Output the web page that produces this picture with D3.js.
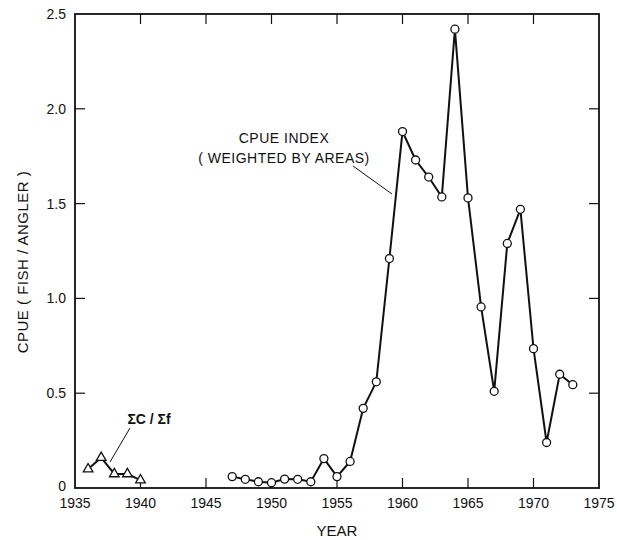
<!DOCTYPE html>
<html>
<head>
<meta charset="utf-8">
<style>
    html, body { margin: 0; padding: 0; background: #ffffff; }
    svg { display: block; font-family: "Liberation Sans", Arial, sans-serif; }
    text { fill: #111111; }
    .frame { fill: none; stroke: #111111; stroke-width: 1.8; }
    .tick { stroke: #111111; stroke-width: 1.2; }
    .series { fill: none; stroke: #111111; stroke-width: 2; }
    .marker { fill: #ffffff; stroke: #111111; stroke-width: 1.3; }
    .leader { stroke: #111111; stroke-width: 1; }
</style>
</head>
<body>
<div id="chart"></div>
<script src="https://d3js.org/d3.v7.min.js"></script>
<script>
    // CPUE index (weighted by areas), 1947-1973
    var indexYears = [1947, 1948, 1949, 1950, 1951, 1952, 1953, 1954, 1955, 1956,
        1957, 1958, 1959, 1960, 1961, 1962, 1963, 1964, 1965, 1966,
        1967, 1968, 1969, 1970, 1971, 1972, 1973];
    var indexValues = [0.06, 0.046, 0.033, 0.028, 0.047, 0.046, 0.033, 0.155, 0.06, 0.14,
        0.42, 0.56, 1.21, 1.88, 1.73, 1.64, 1.535, 2.42, 1.53, 0.955,
        0.51, 1.29, 1.47, 0.735, 0.24, 0.6, 0.545];

    // sum C / sum f, 1936-1940
    var ratioYears = [1936, 1937, 1938, 1939, 1940];
    var ratioValues = [0.1, 0.16, 0.074, 0.074, 0.042];

    var xTicks = [1935, 1940, 1945, 1950, 1955, 1960, 1965, 1970, 1975];
    var yTicks = [0, 0.5, 1.0, 1.5, 2.0, 2.5];

    var width = 617, height = 540;
    var plotLeft = 75, plotRight = 599, plotTop = 14, plotBottom = 488;

    var svg = d3.select("#chart").append("svg")
        .attr("width", width)
        .attr("height", height);

    var x = d3.scaleLinear().domain([1935, 1975]).range([plotLeft, plotRight]);
    var y = d3.scaleLinear().domain([0, 2.5]).range([plotBottom, plotTop]);

    // frame
    svg.append("rect")
        .attr("class", "frame")
        .attr("x", plotLeft).attr("y", plotTop)
        .attr("width", plotRight - plotLeft).attr("height", plotBottom - plotTop);

    // inward ticks on all four sides
    var tl = 10;
    xTicks.slice(1, -1).forEach(function (t) {
        svg.append("line").attr("class", "tick")
            .attr("x1", x(t)).attr("x2", x(t))
            .attr("y1", plotBottom).attr("y2", plotBottom - tl);
        svg.append("line").attr("class", "tick")
            .attr("x1", x(t)).attr("x2", x(t))
            .attr("y1", plotTop).attr("y2", plotTop + tl);
    });
    yTicks.slice(1, -1).forEach(function (t) {
        svg.append("line").attr("class", "tick")
            .attr("x1", plotLeft).attr("x2", plotLeft + tl)
            .attr("y1", y(t)).attr("y2", y(t));
        svg.append("line").attr("class", "tick")
            .attr("x1", plotRight).attr("x2", plotRight - tl)
            .attr("y1", y(t)).attr("y2", y(t));
    });

    // tick labels
    svg.selectAll(".xlab")
        .data(xTicks)
        .enter().append("text")
        .attr("class", "xlab")
        .attr("x", function (d) { return x(d); })
        .attr("y", plotBottom + 20)
        .attr("text-anchor", "middle")
        .style("font-size", "14px")
        .text(function (d) { return d; });

    svg.selectAll(".ylab")
        .data(yTicks)
        .enter().append("text")
        .attr("class", "ylab")
        .attr("x", plotLeft - 9)
        .attr("y", function (d) { return y(d) + (d === 0 ? 3 : 5); })
        .attr("text-anchor", "end")
        .style("font-size", "14px")
        .text(function (d) { return d === 0 ? "0" : d.toFixed(1); });

    // axis titles
    svg.append("text")
        .attr("x", 337)
        .attr("y", 536)
        .attr("text-anchor", "middle")
        .style("font-size", "15px")
        .text("YEAR");

    svg.append("text")
        .attr("transform", "translate(28,262) rotate(-90)")
        .attr("text-anchor", "middle")
        .style("font-size", "15px")
        .style("letter-spacing", "0.5px")
        .text("CPUE ( FISH / ANGLER )");

    // series
    var indexData = indexYears.map(function (d, i) { return { year: d, value: indexValues[i] }; });
    var ratioData = ratioYears.map(function (d, i) { return { year: d, value: ratioValues[i] }; });

    var line = d3.line()
        .x(function (d) { return x(d.year); })
        .y(function (d) { return y(d.value); });

    svg.append("path").attr("class", "series").attr("d", line(indexData));
    svg.append("path").attr("class", "series").attr("d", line(ratioData));

    svg.selectAll(".circ")
        .data(indexData)
        .enter().append("circle")
        .attr("class", "marker")
        .attr("cx", function (d) { return x(d.year); })
        .attr("cy", function (d) { return y(d.value); })
        .attr("r", 4);

    var tri = d3.symbol().type(d3.symbolTriangle).size(40);
    svg.selectAll(".tri")
        .data(ratioData)
        .enter().append("path")
        .attr("class", "marker")
        .attr("transform", function (d) { return "translate(" + x(d.year) + "," + y(d.value) + ")"; })
        .attr("d", tri);

    // annotations
    svg.append("text")
        .attr("x", 284).attr("y", 143)
        .attr("text-anchor", "middle")
        .style("font-size", "14px")
        .style("letter-spacing", "0.5px")
        .text("CPUE INDEX");
    svg.append("text")
        .attr("x", 284).attr("y", 163)
        .attr("text-anchor", "middle")
        .style("font-size", "14px")
        .style("letter-spacing", "0.5px")
        .text("( WEIGHTED BY AREAS)");
    svg.append("line").attr("class", "leader")
        .attr("x1", 353).attr("y1", 166)
        .attr("x2", 392).attr("y2", 194);

    svg.append("text")
        .attr("x", 149).attr("y", 424)
        .attr("text-anchor", "middle")
        .style("font-size", "14px")
        .style("font-weight", "bold")
        .text("ΣC / Σf");
    svg.append("line").attr("class", "leader")
        .attr("x1", 130).attr("y1", 428)
        .attr("x2", 110).attr("y2", 462);
</script>
</body>
</html>
